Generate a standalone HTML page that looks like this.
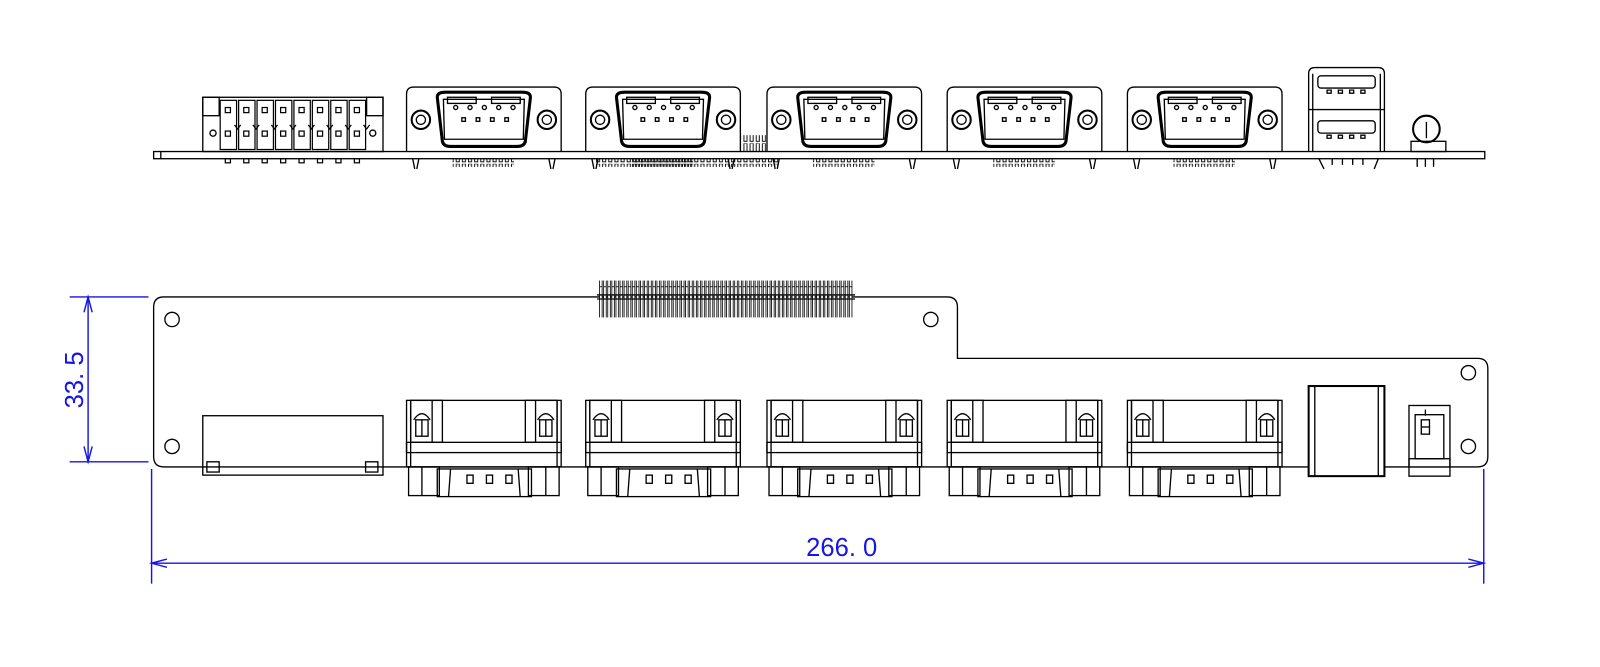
<!DOCTYPE html>
<html><head><meta charset="utf-8"><style>
html,body{margin:0;padding:0;background:#fff;}
svg{display:block}
</style></head><body>
<svg width="1600" height="667" viewBox="0 0 1562.5 651.4" xmlns="http://www.w3.org/2000/svg" xmlns:xlink="http://www.w3.org/1999/xlink" font-family="Liberation Sans, DejaVu Sans, sans-serif">
<defs>
<pattern id="hp" x="585" y="0" width="4" height="40" patternUnits="userSpaceOnUse">
<rect x="0.5" y="0" width="2.5" height="40" fill="#fff" stroke="#000" stroke-width="0.8"/>
</pattern>
<pattern id="pp" x="0" y="0" width="6" height="10" patternUnits="userSpaceOnUse">
<rect x="0.5" y="0" width="3" height="8" fill="none" stroke="#000" stroke-width="0.9"/>
</pattern>
<g id="dbt" fill="none" stroke="#000" stroke-width="1.3">
<path d="M0 148 L0 92 Q0 85 7 85 L144 85 Q151 85 151 92 L151 148"/>
<circle cx="14" cy="117" r="9" stroke-width="2"/><circle cx="14" cy="117" r="4.5"/>
<circle cx="137" cy="117" r="9" stroke-width="2"/><circle cx="137" cy="117" r="4.5"/>
<path d="M30 95 Q30 90 38 90 L113 90 Q121 90 121 95 L116 138 Q115 143 108 143 L43 143 Q36 143 35 138 Z" stroke-width="3"/>
<path d="M36 97 L37 136 L114 136 L115 97 Z"/>
<rect x="40" y="95" width="28" height="6"/><rect x="83" y="95" width="28" height="6"/>
<circle cx="48" cy="105" r="2"/><circle cx="62" cy="105" r="2"/><circle cx="76" cy="105" r="2"/><circle cx="90" cy="105" r="2"/><circle cx="104" cy="105" r="2"/>
<rect x="54" y="115" width="3.5" height="3.5"/><rect x="68" y="115" width="3.5" height="3.5"/><rect x="82" y="115" width="3.5" height="3.5"/><rect x="96" y="115" width="3.5" height="3.5"/>
<path d="M6 155 L8 165 M12 155 L10 165 M139 155 L141 165 M145 155 L143 165"/>
<rect x="45" y="155" width="60" height="8" fill="url(#pp)" stroke="none"/>
</g>
<g id="dbb" fill="none" stroke="#000" stroke-width="1.3">
<rect x="0" y="391" width="151" height="65"/>
<line x1="4" y1="391" x2="4" y2="456"/><line x1="147" y1="391" x2="147" y2="456"/>
<rect x="4" y="391" width="31" height="41"/><rect x="116" y="391" width="31" height="41"/>
<line x1="25" y1="391" x2="25" y2="432"/><line x1="126" y1="391" x2="126" y2="432"/>
<rect x="9" y="410" width="12" height="16"/><rect x="130" y="410" width="12" height="16"/>
<line x1="15" y1="410" x2="15" y2="426"/><line x1="136" y1="410" x2="136" y2="426"/>
<path d="M7 410 Q15 398 23 410 M128 410 Q136 398 144 410"/>
<rect x="0" y="432" width="151" height="10"/>
<rect x="2" y="456" width="30" height="28"/><line x1="15" y1="456" x2="15" y2="484"/>
<rect x="119" y="456" width="30" height="28"/><line x1="136" y1="456" x2="136" y2="484"/>
<rect x="30" y="458" width="92" height="27"/>
<line x1="43" y1="458" x2="41" y2="485"/><line x1="109" y1="458" x2="111" y2="485"/>
<rect x="59" y="464" width="6" height="8"/><rect x="78" y="464" width="6" height="8"/><rect x="97" y="464" width="6" height="8"/>
</g>
<g id="tb" fill="none" stroke="#000" stroke-width="1.2">
<rect x="0" y="3" width="16" height="48"/><rect x="5" y="10" width="5" height="5"/><rect x="5" y="33" width="5" height="5"/>
<path d="M14 27 l3 4 l3 -4"/><rect x="5" y="60" width="5" height="4"/>
</g>
</defs>
<g fill="none" stroke="#000" stroke-width="1.3">
<!-- top view -->
<rect x="150" y="148" width="1300" height="7"/><line x1="157" y1="148" x2="157" y2="155"/>
<rect x="198" y="95" width="176" height="53"/><rect x="198" y="95" width="16" height="18"/><rect x="358" y="95" width="16" height="18"/>
<circle cx="208" cy="130" r="3"/><circle cx="364" cy="130" r="3"/>
</g>
<use xlink:href="#tb" x="215" y="95"/><use xlink:href="#tb" x="233" y="95"/><use xlink:href="#tb" x="251" y="95"/><use xlink:href="#tb" x="269" y="95"/>
<use xlink:href="#tb" x="287" y="95"/><use xlink:href="#tb" x="305" y="95"/><use xlink:href="#tb" x="323" y="95"/><use xlink:href="#tb" x="341" y="95"/>
<use xlink:href="#dbt" x="397"/><use xlink:href="#dbt" x="572"/><use xlink:href="#dbt" x="749"/><use xlink:href="#dbt" x="925"/><use xlink:href="#dbt" x="1101"/>
<use xlink:href="#dbb" x="397"/><use xlink:href="#dbb" x="572"/><use xlink:href="#dbb" x="749"/><use xlink:href="#dbb" x="925"/><use xlink:href="#dbb" x="1101"/>
<g fill="none" stroke="#000" stroke-width="1.3">
<rect x="580" y="155" width="180" height="8" fill="url(#pp)" stroke="none"/>
<rect x="724" y="132" width="24" height="16" fill="url(#pp)" stroke="none"/>
<!-- USB top -->
<path d="M1278 148 L1278 72 Q1278 66 1284 66 L1346 66 Q1352 66 1352 72 L1352 148"/>
<line x1="1278" y1="107" x2="1352" y2="107"/><line x1="1282" y1="72" x2="1282" y2="148"/><line x1="1348" y1="72" x2="1348" y2="148"/>
<rect x="1287" y="74" width="56" height="12" rx="3"/><rect x="1287" y="118" width="56" height="12" rx="3"/>
<path d="M1296 88h4v3h-4zM1307 88h4v3h-4zM1318 88h4v3h-4zM1329 88h4v3h-4zM1296 132h4v3h-4zM1307 132h4v3h-4zM1318 132h4v3h-4zM1329 132h4v3h-4z"/>
<path d="M1288 155 l5 10 M1346 155 l-4 10 M1301 155v6 M1311 155v6 M1321 155v6 M1331 155v6"/>
<!-- audio -->
<circle cx="1393" cy="126" r="13" stroke-width="2"/><line x1="1393" y1="119" x2="1393" y2="135"/>
<rect x="1378" y="138" width="34" height="10"/><path d="M1384 155v8 M1392 155v8 M1400 155v8"/>
<!-- bottom board -->
<path d="M160 290 L925 290 Q935 290 935 300 L935 350 L1443 350 Q1453 350 1453 360 L1453 446 Q1453 456 1443 456 L160 456 Q150 456 150 446 L150 300 Q150 290 160 290 Z"/>
<circle cx="168" cy="312" r="7"/><circle cx="909" cy="312" r="7"/><circle cx="1434" cy="364" r="7"/><circle cx="168" cy="436" r="7"/><circle cx="1434" cy="436" r="7"/>
<rect x="585" y="274" width="248" height="36" fill="url(#hp)" stroke="none"/>
<line x1="583" y1="288" x2="835" y2="288"/><line x1="583" y1="292" x2="835" y2="292"/>
<rect x="198" y="406" width="176" height="58"/><rect x="202" y="451" width="12" height="10"/><rect x="357" y="451" width="12" height="10"/>
<rect x="1278" y="377" width="74" height="88" stroke-width="2" fill="#fff"/><line x1="1284" y1="377" x2="1284" y2="465"/><line x1="1346" y1="377" x2="1346" y2="465"/>
<rect x="1376" y="396" width="40" height="60" fill="#fff"/><rect x="1382" y="405" width="28" height="43"/><rect x="1376" y="448" width="40" height="17"/>
<rect x="1388" y="410" width="8" height="14"/><line x1="1388" y1="417" x2="1396" y2="417"/><line x1="1392" y1="400" x2="1392" y2="406"/>
</g>
<g stroke="#1515e6" stroke-width="1.4" fill="none">
<line x1="68" y1="290" x2="145" y2="290"/>
<line x1="68" y1="451" x2="145" y2="451"/>
<line x1="86" y1="290" x2="86" y2="451"/>
<path d="M82 305 L86 290 L90 305 M82 436 L86 451 L90 436"/>
<line x1="148" y1="458" x2="148" y2="570"/>
<line x1="1449" y1="458" x2="1449" y2="570"/>
<line x1="148" y1="550" x2="1449" y2="550"/>
<path d="M163 546 L148 550 L163 554 M1434 546 L1449 550 L1434 554"/>
</g>
<text x="822" y="543" fill="#1515e6" font-size="25" text-anchor="middle">266. 0</text>
<text x="0" y="0" fill="#1515e6" font-size="25" text-anchor="middle" transform="translate(81,371) rotate(-90)">33. 5</text>
</svg>
</body></html>
